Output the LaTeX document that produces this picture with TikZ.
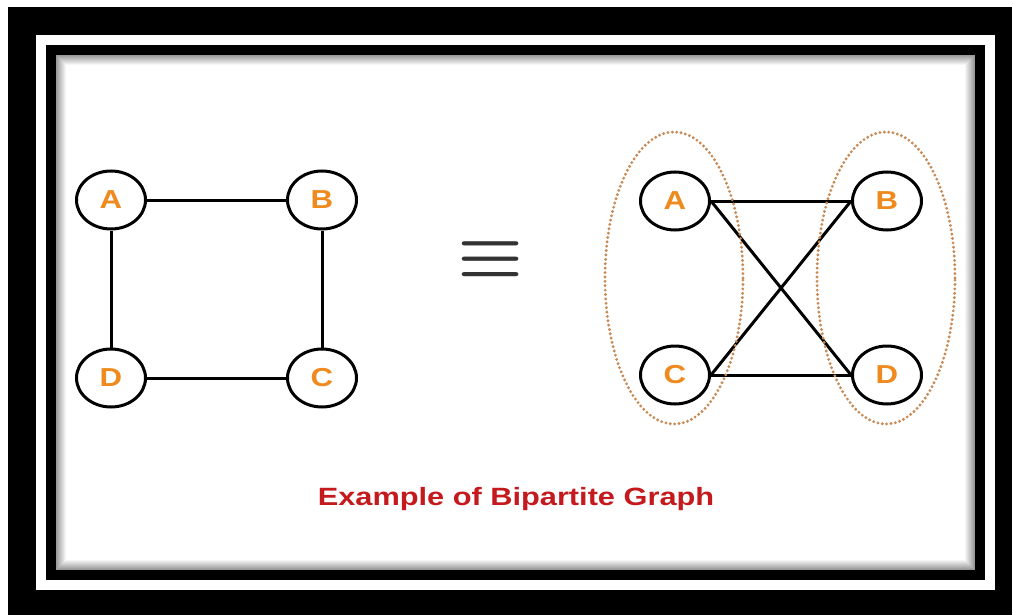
\documentclass[tikz,border=0pt]{standalone}
\usepackage{fontspec}
\setmainfont{Liberation Sans}
\usepackage{graphicx}
\usetikzlibrary{shapes.geometric,positioning}

\definecolor{labelorange}{HTML}{EE8A1E}
\definecolor{titlered}{HTML}{C41A1E}
\definecolor{setbrown}{HTML}{C98A55}
\newcommand{\wide}[1]{\scalebox{1.2}[1]{#1}}

\begin{document}
\begin{tikzpicture}[x=1pt,y=-1pt,
  vertex/.style={ellipse,draw,line width=3pt,minimum width=69pt,minimum height=58pt,
    inner sep=0pt,fill=white,text=labelorange,font=\bfseries\fontsize{26}{26}\selectfont},
  edge/.style={line width=3pt},
  partset/.style={draw=setbrown,line width=3.2pt,line cap=round,dash pattern=on 0pt off 4.4pt}]
\useasboundingbox (0,0) rectangle (1012,615);
% frame
\fill[white] (0,0) rectangle (1012,615);
\fill[black] (8,7) rectangle (1012,615);
\fill[white] (36,35) rectangle (995,590);
\fill[black] (46,45) rectangle (985,580);
\fill[white] (56,55) rectangle (975,570);
\foreach \i in {0,...,9}
  \draw[black!\the\numexpr 40-4*\i\relax,line width=1pt] (56.5+\i,55.5+\i) rectangle (974.5-\i,569.5-\i);

% left graph
\node[vertex] (A1) at (111,200) {\wide{A}};
\node[vertex] (B1) at (322,200) {\wide{B}};
\node[vertex] (D1) at (111,378) {\wide{D}};
\node[vertex] (C1) at (322,378) {\wide{C}};
\draw[edge] (A1) -- (B1);
\draw[edge] (B1) -- (C1);
\draw[edge] (C1) -- (D1);
\draw[edge] (D1) -- (A1);

% equivalence
\node[text=black!80] (eq) at (490.5,259.5) {\scalebox{7.4}[6.9]{\boldmath$\equiv$}};

% right graph
\node[vertex] (A2) at (675,201) {\wide{A}};
\node[vertex] (B2) at (887,201) {\wide{B}};
\node[vertex] (C2) at (675,375) {\wide{C}};
\node[vertex] (D2) at (887,375) {\wide{D}};
\draw[edge] (A2.east) -- (B2.west);
\draw[edge] (A2.east) -- (D2.west);
\draw[edge] (C2.east) -- (B2.west);
\draw[edge] (C2.east) -- (D2.west);
\node[partset,ellipse,minimum width=138pt,minimum height=292pt] (left set) at (674,278) {};
\node[partset,ellipse,minimum width=138pt,minimum height=292pt] (right set) at (886,278) {};

\node[text=titlered,font=\bfseries\fontsize{25}{25}\selectfont] (title) at (516,499)
  {\scalebox{1.23}[1]{Example of Bipartite Graph}};
\end{tikzpicture}
\end{document}
